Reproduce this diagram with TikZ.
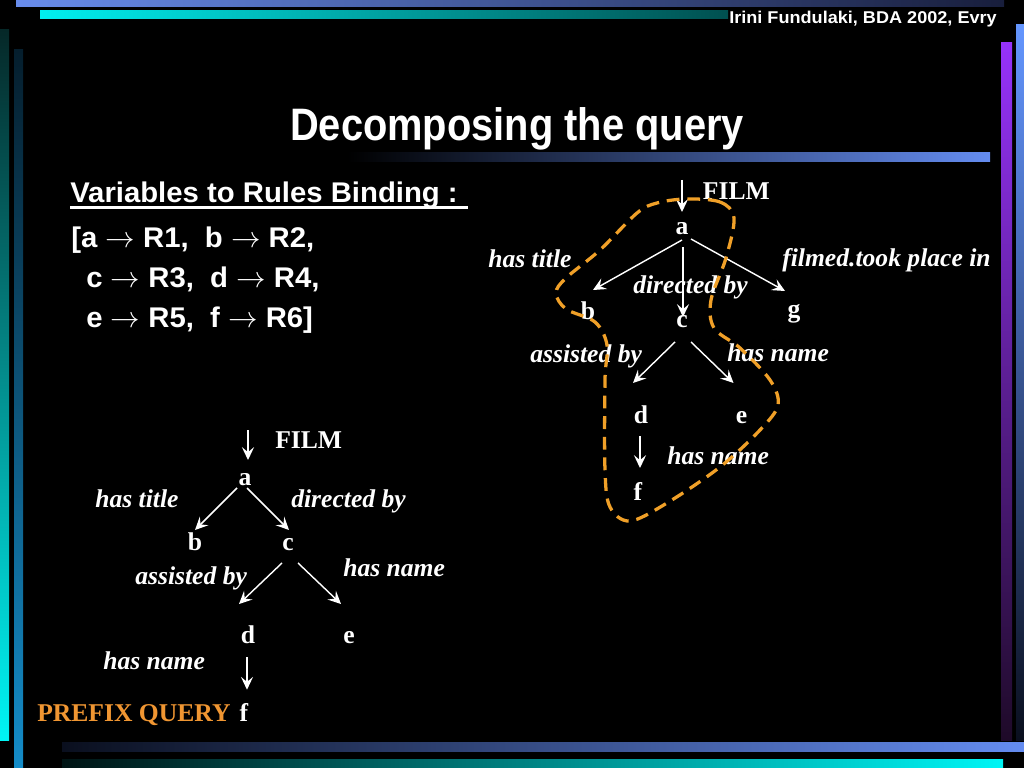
\documentclass[tikz,border=0pt]{standalone}
\usepackage{fontspec}
\setmainfont{Liberation Serif}
\newfontfamily\sansbody[FakeStretch=1.03]{Liberation Sans}
\newfontfamily\sanstitle[FakeStretch=0.875]{Liberation Sans}
\newfontfamily\sansauthor[FakeStretch=1.06]{Liberation Sans}
\usetikzlibrary{arrows.meta,calc}
\definecolor{dashorange}{RGB}{240,160,40}
\definecolor{prefixorange}{RGB}{240,150,50}
\definecolor{topblueL}{RGB}{104,140,236}
\definecolor{topblueR}{RGB}{24,30,60}
\definecolor{cyanL}{RGB}{0,240,240}
\definecolor{cyanR}{RGB}{0,80,80}
\definecolor{purpleT}{RGB}{150,50,250}
\definecolor{purpleB}{RGB}{30,10,40}
\definecolor{blueT}{RGB}{100,150,255}
\definecolor{blueB}{RGB}{10,15,30}
\definecolor{lcyanT}{RGB}{5,40,40}
\definecolor{lcyanB}{RGB}{0,245,245}
\definecolor{lblueT}{RGB}{5,30,45}
\definecolor{lblueB}{RGB}{20,140,200}
\definecolor{botblueL}{RGB}{10,15,30}
\definecolor{botblueR}{RGB}{100,140,240}
\definecolor{botcyanL}{RGB}{0,20,20}
\definecolor{botcyanR}{RGB}{0,245,245}
\begin{document}
\begin{tikzpicture}[x=0.703125pt,y=-0.703125pt,
  letter/.style={text=white,font=\fontsize{18}{21.6}\selectfont\bfseries,inner sep=0pt,anchor=base},
  lab/.style={text=white,font=\fontsize{18}{21.6}\selectfont\bfseries\itshape,inner sep=0pt,anchor=base west},
  edge/.style={draw=white,line width=1pt,-{Stealth[length=9pt,width=8.5pt,inset=3.5pt]}},
  varline/.style={text=white,font=\sansbody\fontsize{20}{24}\selectfont\bfseries,inner sep=0pt,anchor=base west},
  dashcurve/.style={draw=dashorange,line width=2.3pt,dash pattern=on 9pt off 5.5pt}
]
% background and bounding box
\fill[black] (0,0) rectangle (1024,768);
\useasboundingbox (0,0) rectangle (1024,768);
% decorative bars
\shade[left color=topblueL,right color=topblueR] (16,0) rectangle (1004,7);
\shade[left color=cyanL,right color=cyanR] (40,11) rectangle (728,19);
\shade[top color=purpleT,bottom color=purpleB] (1001,43) rectangle (1012,740);
\shade[top color=blueT,bottom color=blueB] (1016,25) rectangle (1024,740);
\shade[top color=lcyanT,bottom color=lcyanB] (0,30) rectangle (9,740);
\shade[top color=lblueT,bottom color=lblueB] (14,50) rectangle (23,768);
\shade[left color=botblueL,right color=botblueR] (62,742) rectangle (1024,751);
\shade[left color=botcyanL,right color=botcyanR] (62,759) rectangle (1003,768);
\shade[left color=black,right color=botblueR] (347,153) rectangle (990,162);
% author and title
\node[text=white,font=\sansauthor\fontsize{12}{14}\selectfont\bfseries,inner sep=0pt,anchor=base east] (author) at (997,23.5) {Irini Fundulaki, BDA 2002, Evry};
\node[text=white,font=\sanstitle\fontsize{32}{38}\selectfont\bfseries,inner sep=0pt,anchor=base] (title) at (517,141) {Decomposing the query};
% variables to rules binding
\node[varline] (v1) at (70,203) {Variables to Rules Binding :};
\draw[white,line width=1.5pt] ($(v1.base west)+(0,4.5)$) -- ($(v1.base east)+(10,4.5)$);
\node[varline] (v2) at (71,248) {[a $\rightarrow$ R1,\ \ b $\rightarrow$ R2,};
\node[varline] (v3) at (86,287) {c $\rightarrow$ R3,\ \ d $\rightarrow$ R4,};
\node[varline] (v4) at (86,327) {e $\rightarrow$ R5,\ \ f $\rightarrow$ R6]};
% ---------------- right tree ----------------
\coordinate (rtop) at (682,180);
\node[letter] (ra) at (682,235) {a};
\node[letter] (rb) at (588,320) {b};
\node[letter] (rc) at (682,327) {c};
\node[letter] (rg) at (794,318) {g};
\node[letter] (rd) at (641,423) {d};
\node[letter] (re) at (741.5,423) {e};
\node[letter] (rf) at (638,500) {f};
\node[letter,anchor=base west] (rfilm) at (702.7,200) {FILM};
\node[lab] (rtitle) at (488,268) {has title};
\node[lab] (rdir) at (633,294) {directed by};
\node[lab] (rfilmed) at (782,267) {filmed.took place in};
\node[lab] (rassist) at (530,362) {assisted by};
\node[lab] (rname1) at (727,361) {has name};
\node[lab] (rname2) at (667,464) {has name};
\draw[edge] (rtop) -- ($(ra.base)+(0,-23)$);
\draw[edge] ($(ra.base)+(0,5)$) -- ($(rb.base)+(5,-30)$);
\draw[edge] ($(ra.base)+(1,12)$) -- ($(rc.base)+(1,-10)$);
\draw[edge] ($(ra.base)+(9,4)$) -- ($(rg.base)+(-9,-27)$);
\draw[edge] ($(rc.base)+(-7,15)$) -- ($(rd.base)+(-8,-40)$);
\draw[edge] ($(rc.base)+(9,15)$) -- ($(re.base)+(-8,-40)$);
\draw[edge] ($(rd.base)+(-1,13)$) -- ($(rf.base)+(2,-32)$);
% ---------------- left tree ----------------
\coordinate (ltop) at (248,430);
\node[letter] (la) at (245,485) {a};
\node[letter] (lb) at (195,550) {b};
\node[letter] (lc) at (288,550) {c};
\node[letter] (ld) at (248,643) {d};
\node[letter] (le) at (349,643) {e};
\node[letter] (lf) at (244,721.7) {f};
\node[letter,anchor=base west] (lfilm) at (275,448) {FILM};
\node[lab] (ltitle) at (95,507) {has title};
\node[lab] (ldir) at (291,507) {directed by};
\node[lab] (lassist) at (135,584) {assisted by};
\node[lab] (lname1) at (343,576) {has name};
\node[lab] (lname2) at (103,669) {has name};
\node[letter,anchor=base west,text=prefixorange] (prefix) at (37,721.7) {PREFIX QUERY};
\draw[edge] (ltop) -- ($(la.base)+(3,-25)$);
\draw[edge] ($(la.base)+(-8,3)$) -- ($(lb.base)+(0,-20)$);
\draw[edge] ($(la.base)+(2,3)$) -- ($(lc.base)+(1,-20)$);
\draw[edge] ($(lc.base)+(-6,13)$) -- ($(ld.base)+(-9,-39)$);
\draw[edge] ($(lc.base)+(10,13)$) -- ($(le.base)+(-8,-39)$);
\draw[edge] ($(ld.base)+(-1,14)$) -- ($(lf.base)+(3,-32)$);
% dashed boundary of the prefix query
\draw[dashcurve] plot[smooth cycle,tension=0.55] coordinates {
  (686,199) (720,202) (734,218) (726,258) (711,300) (714,328) (740,348)
  (770,380) (778,405) (760,430) (720,467) (667,503) (630,521) (610,507)
  (605,470) (605,380) (607,345) (595,322) (566,309) (556,293) (566,278)
  (600,250) (637,213) (657,203)};
\end{tikzpicture}
\end{document}
